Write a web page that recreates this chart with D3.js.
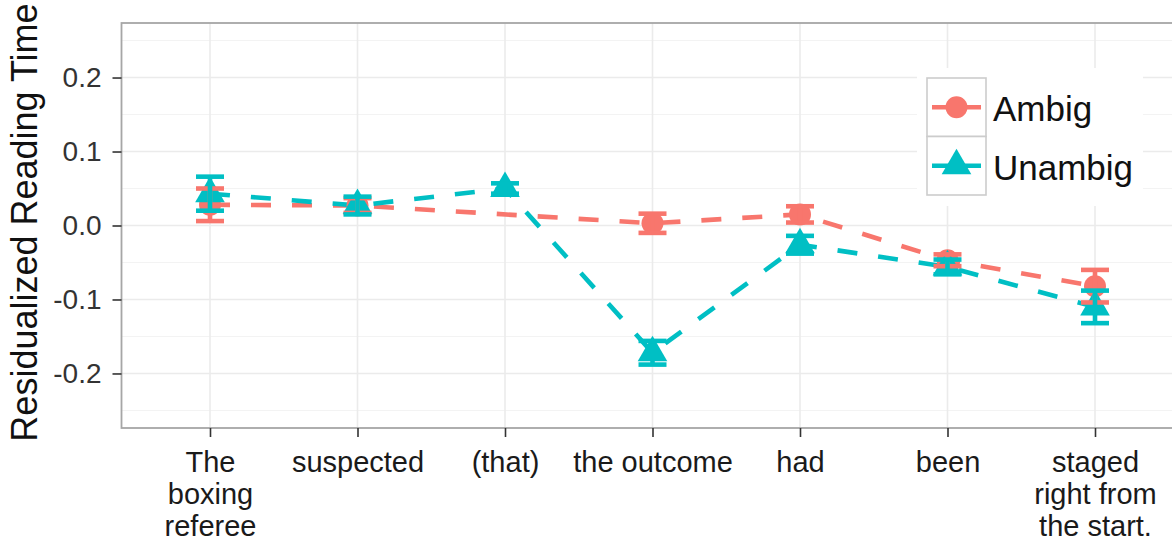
<!DOCTYPE html>
<html>
<head>
<meta charset="utf-8">
<script src="https://cdn.jsdelivr.net/npm/d3@7"></script>
<style>
  html, body { margin: 0; padding: 0; background: #fff; }
  svg { display: block; font-family: "Liberation Sans", Arial, Helvetica, sans-serif; }
</style>
</head>
<body>
<svg id="chart" width="1172" height="544"></svg>
<script>
// Sentence regions (x axis), one entry per word group; lines split for wrapping
const regions = ["The boxing referee", "suspected", "(that)", "the outcome", "had", "been", "staged right from the start."];
const regionLines = [["The", "boxing", "referee"], ["suspected"], ["(that)"], ["the outcome"], ["had"], ["been"], ["staged", "right from", "the start."]];

// Mean residualized reading time and standard error per region
const ambigMean   = [0.028, 0.027, null, 0.003, 0.015, -0.047, -0.082];
const ambigSE     = [0.022, 0.010, null, 0.013, 0.011, 0.008, 0.022];
const unambigMean = [0.043, 0.027, 0.050, -0.172, -0.026, -0.056, -0.110];
const unambigSE   = [0.023, 0.012, 0.007, 0.016, 0.012, 0.010, 0.022];

const yTicks = [-0.2, -0.1, 0.0, 0.1, 0.2];
const yMinor = [-0.25, -0.15, -0.05, 0.05, 0.15, 0.25];
const yTitle = "Residualized Reading Time";

const conditions = [
  { name: "Ambig",   mean: ambigMean,   se: ambigSE,   color: "#F8766D", shape: "circle" },
  { name: "Unambig", mean: unambigMean, se: unambigSE, color: "#00BFC4", shape: "triangle" }
];

const svg = d3.select("#chart");
const panel = { left: 121.5, top: 23, right: 1183.5, bottom: 428 };

const x = d3.scalePoint().domain(regions).range([panel.left, panel.right]).padding(0.6);
const y = d3.scaleLinear().domain([-0.2737, 0.2737]).range([panel.bottom, panel.top]);

// panel background and grid
svg.append("rect").attr("x", panel.left).attr("y", panel.top)
  .attr("width", panel.right - panel.left).attr("height", panel.bottom - panel.top)
  .attr("fill", "#fff");

const grid = svg.append("g");
grid.selectAll("line.minor").data(yMinor).join("line")
  .attr("x1", panel.left).attr("x2", panel.right)
  .attr("y1", d => y(d)).attr("y2", d => y(d))
  .attr("stroke", "#F3F3F3").attr("stroke-width", 1);
grid.selectAll("line.hmajor").data(yTicks).join("line")
  .attr("x1", panel.left).attr("x2", panel.right)
  .attr("y1", d => y(d)).attr("y2", d => y(d))
  .attr("stroke", "#EBEBEB").attr("stroke-width", 1.6);
grid.selectAll("line.vmajor").data(regions).join("line")
  .attr("x1", d => x(d)).attr("x2", d => x(d))
  .attr("y1", panel.top).attr("y2", panel.bottom)
  .attr("stroke", "#EBEBEB").attr("stroke-width", 1.6);

// dashed condition lines (missing regions are skipped, the line joins neighbours)
const line = d3.line().x(d => x(d.region)).y(d => y(d.value));
const seriesPoints = c => regions.map((r, i) => ({ region: r, value: c.mean[i], se: c.se[i] }))
  .filter(d => d.value !== null);

const marks = svg.append("g");
conditions.forEach(c => {
  marks.append("path").datum(seriesPoints(c))
    .attr("d", line).attr("fill", "none")
    .attr("stroke", c.color).attr("stroke-width", 4.6)
    .attr("stroke-dasharray", "20,21");
});

// point symbols
const R = 11;
function symbol(g, shape, cx, cy, color) {
  if (shape === "circle") {
    g.append("circle").attr("cx", cx).attr("cy", cy).attr("r", R).attr("fill", color);
  } else {
    const r = 1.5551 * R, yc = 0.7776 * R, xc = 1.3468 * R;
    g.append("path")
      .attr("d", `M${cx},${cy - r}L${cx + xc},${cy + yc}L${cx - xc},${cy + yc}Z`)
      .attr("fill", color);
  }
}
conditions.forEach(c => {
  seriesPoints(c).forEach(d => symbol(marks, c.shape, x(d.region), y(d.value), c.color));
});

// error bars
const capHalf = 14;
conditions.forEach(c => {
  const eb = marks.append("g").attr("stroke", c.color).attr("stroke-width", 4.6).attr("fill", "none");
  seriesPoints(c).forEach(d => {
    const cx = x(d.region), lo = y(d.value - d.se), hi = y(d.value + d.se);
    eb.append("line").attr("x1", cx).attr("x2", cx).attr("y1", lo).attr("y2", hi);
    eb.append("line").attr("x1", cx - capHalf).attr("x2", cx + capHalf).attr("y1", lo).attr("y2", lo);
    eb.append("line").attr("x1", cx - capHalf).attr("x2", cx + capHalf).attr("y1", hi).attr("y2", hi);
  });
});

// panel border
svg.append("rect").attr("x", panel.left).attr("y", panel.top)
  .attr("width", panel.right - panel.left).attr("height", panel.bottom - panel.top)
  .attr("fill", "none").attr("stroke", "#A6A6A6").attr("stroke-width", 1.8);

// y axis
const yAxis = svg.append("g").attr("transform", `translate(${panel.left},0)`)
  .call(d3.axisLeft(y).tickValues(yTicks).tickFormat(d3.format(".1f")).tickSize(9).tickPadding(11));
yAxis.select(".domain").remove();
yAxis.selectAll(".tick line").attr("stroke", "#333").attr("stroke-width", 1.6);
yAxis.selectAll(".tick text").attr("font-size", 28).attr("fill", "#333")
  .attr("font-family", "'Liberation Sans', Arial, sans-serif")
  .text(d => d3.format(".1f")(d).replace("−", "-"));

// x axis
const xAxis = svg.append("g").attr("transform", `translate(0,${panel.bottom})`)
  .call(d3.axisBottom(x).tickSize(9).tickFormat(""));
xAxis.select(".domain").remove();
xAxis.selectAll(".tick line").attr("stroke", "#333").attr("stroke-width", 1.6);
xAxis.selectAll(".tick").each(function(d, i) {
  const t = d3.select(this).append("text")
    .attr("text-anchor", "middle").attr("fill", "#1a1a1a")
    .attr("font-size", 29)
    .attr("font-family", "'Liberation Sans', Arial, sans-serif");
  regionLines[i].forEach((s, k) => t.append("tspan").attr("x", 0).attr("y", 44 + k * 32).text(s));
});

// y axis title
svg.append("text")
  .attr("transform", `translate(37,${(panel.top + panel.bottom) / 2 - 3}) rotate(-90)`)
  .attr("text-anchor", "middle").attr("font-size", 36).attr("fill", "#111")
  .text(yTitle);

// legend
const legend = svg.append("g").attr("transform", "translate(917,68)");
legend.append("rect").attr("x", 0).attr("y", 0).attr("width", 226).attr("height", 138).attr("fill", "#fff");
const keyW = 59, keyH = 58.5;
conditions.forEach((c, i) => {
  const g = legend.append("g").attr("transform", `translate(10,${10 + i * keyH})`);
  g.append("rect").attr("width", keyW).attr("height", keyH)
    .attr("fill", "#fff").attr("stroke", "#CCCCCC").attr("stroke-width", 1.6);
  g.append("line").attr("x1", 5).attr("x2", keyW - 5).attr("y1", keyH / 2).attr("y2", keyH / 2)
    .attr("stroke", c.color).attr("stroke-width", 4.6);
  symbol(g, c.shape, keyW / 2, keyH / 2, c.color);
  g.append("text").attr("x", keyW + 7).attr("y", keyH / 2 + 14)
    .attr("font-size", 35).attr("fill", "#111").text(c.name);
});
</script>
</body>
</html>
